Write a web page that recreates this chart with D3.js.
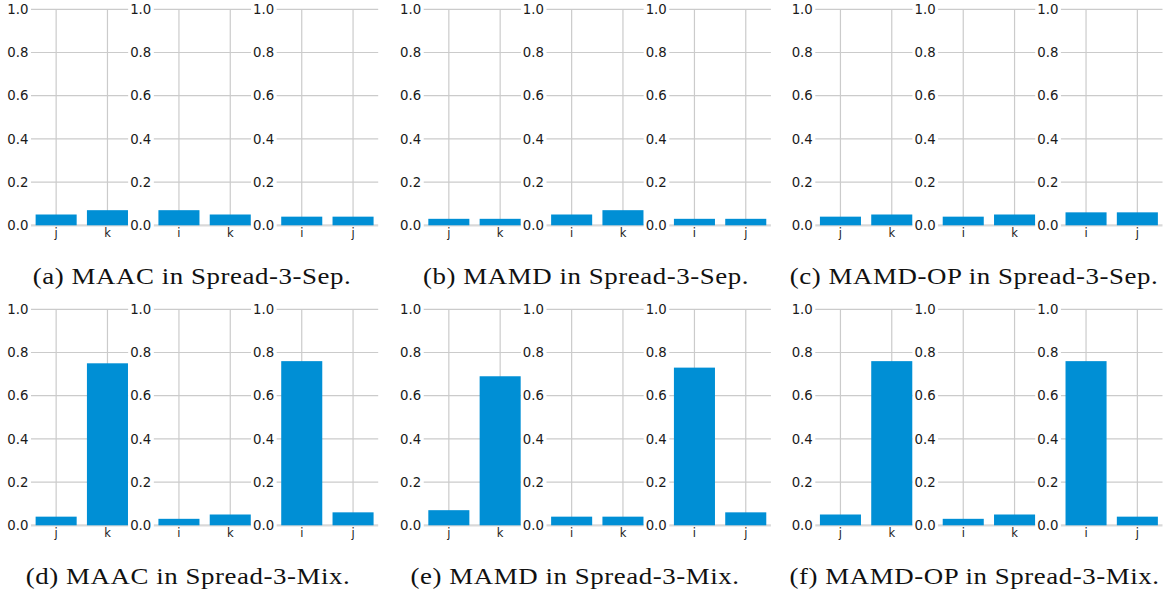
<!DOCTYPE html>
<html>
<head>
<meta charset="utf-8">
<script src="https://cdn.jsdelivr.net/npm/d3@7"></script>
<style>
  html, body { margin: 0; padding: 0; background: #ffffff; }
  svg { display: block; }
</style>
</head>
<body>
<svg id="chart" width="1167" height="596"></svg>
<script>
// ---------------- data ----------------
const subplotCategories = [["j", "k"], ["i", "k"], ["i", "j"]];
const yTickValues = [0, 0.2, 0.4, 0.6, 0.8, 1.0];

const sepMAAC   = [[0.05, 0.07], [0.07, 0.05], [0.04, 0.04]];
const sepMAMD   = [[0.03, 0.03], [0.05, 0.07], [0.03, 0.03]];
const sepMAMDOP = [[0.04, 0.05], [0.04, 0.05], [0.06, 0.06]];
const mixMAAC   = [[0.04, 0.75], [0.03, 0.05], [0.76, 0.06]];
const mixMAMD   = [[0.07, 0.69], [0.04, 0.04], [0.73, 0.06]];
const mixMAMDOP = [[0.05, 0.76], [0.03, 0.05], [0.76, 0.04]];

const captions = [
  "(a) MAAC in Spread-3-Sep.",
  "(b) MAMD in Spread-3-Sep.",
  "(c) MAMD-OP in Spread-3-Sep.",
  "(d) MAAC in Spread-3-Mix.",
  "(e) MAMD in Spread-3-Mix.",
  "(f) MAMD-OP in Spread-3-Mix."
];
const panelValues = [sepMAAC, sepMAMD, sepMAMDOP, mixMAAC, mixMAMD, mixMAMDOP];

// ---------------- layout ----------------
const panelOffsetX = [0, 392.7, 784.3];
const rowOffsetY = [0, 300];
const subLeft0 = 31, subPitch = 122.8, subW = 101.6;
const yTop = 9.3, yBottom = 225.3;
const captionCenters = [192, 586, 974, 188, 575, 974.5];
const captionBaseline = 284;

const barColor = "#008fd5";
const gridColor = "#cbcbcb";

const svg = d3.select("#chart");
const gGrid = svg.append("g");
const gLabelBg = svg.append("g");
const gBars = svg.append("g");
const gLabels = svg.append("g");
const gCaptions = svg.append("g");

panelValues.forEach((panel, p) => {
  const col = p % 3, row = Math.floor(p / 3);
  const ox = panelOffsetX[col], oy = rowOffsetY[row];
  const y = d3.scaleLinear().domain([0, 1]).range([oy + yBottom, oy + yTop]);

  panel.forEach((vals, s) => {
    const cats = subplotCategories[s];
    const left = ox + subLeft0 + s * subPitch;
    const x = d3.scaleBand().domain(cats).range([left, left + subW])
      .paddingInner(0.2).paddingOuter(0.09);

    // horizontal gridlines
    gGrid.append("g").selectAll("line").data(yTickValues.filter(v => v > 0)).join("line")
      .attr("x1", left).attr("x2", left + subW)
      .attr("y1", d => y(d)).attr("y2", d => y(d))
      .attr("stroke", gridColor).attr("stroke-width", 1.2);
    // zero line
    gGrid.append("line")
      .attr("x1", left).attr("x2", left + subW)
      .attr("y1", y(0)).attr("y2", y(0))
      .attr("stroke", "#d9d9d9").attr("stroke-width", 2.2);
    // vertical gridlines
    gGrid.append("g").selectAll("line").data(cats).join("line")
      .attr("x1", d => x(d) + x.bandwidth() / 2).attr("x2", d => x(d) + x.bandwidth() / 2)
      .attr("y1", y(1)).attr("y2", y(0))
      .attr("stroke", gridColor).attr("stroke-width", 1.2);

    // bars
    gBars.append("g").selectAll("rect").data(vals).join("rect")
      .attr("x", (d, i) => x(cats[i]))
      .attr("width", x.bandwidth())
      .attr("y", d => y(d))
      .attr("height", d => y(0) - y(d))
      .attr("fill", barColor);

    // y tick labels via axis
    const yAxis = d3.axisLeft(y).tickValues(yTickValues).tickFormat(d3.format(".1f"))
      .tickSize(0).tickPadding(2.5);
    const ya = gLabels.append("g").attr("transform", `translate(${left},0)`).call(yAxis);
    ya.select(".domain").remove();
    ya.selectAll("text")
      .attr("font-family", "DejaVu Sans").attr("font-size", 13.3).attr("fill", "#1a1a1a");
    ya.selectAll("text").each(function () {
      const bb = this.getBBox();
      const tr = this.parentNode.getAttribute("transform");
      gLabelBg.append("rect")
        .attr("transform", `translate(${left},0) ` + (tr || ""))
        .attr("x", bb.x - 2).attr("y", bb.y).attr("width", bb.width + 4).attr("height", bb.height)
        .attr("fill", "#ffffff");
    });

    // x tick labels via axis
    const xAxis = d3.axisBottom(x).tickSize(0).tickPadding(3.5);
    const xa = gLabels.append("g").attr("transform", `translate(0,${y(0)})`).call(xAxis);
    xa.select(".domain").remove();
    xa.selectAll("text")
      .attr("font-family", "DejaVu Sans").attr("font-size", 11.5).attr("fill", "#1a1a1a");
  });

  gCaptions.append("text")
    .attr("transform", `translate(${captionCenters[p]},${oy + captionBaseline}) scale(1.12,1)`)
    .attr("text-anchor", "middle")
    .attr("font-family", "Liberation Serif").attr("font-size", 24)
    .attr("letter-spacing", 0.5)
    .attr("fill", "#111111")
    .text(captions[p]);
});
</script>
</body>
</html>
